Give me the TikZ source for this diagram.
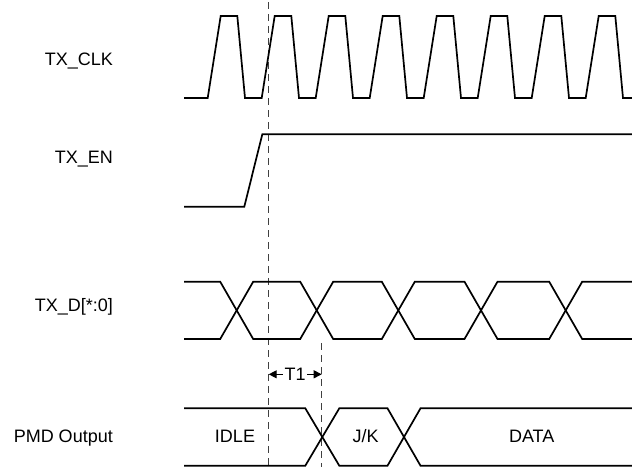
\documentclass[tikz,border=0pt]{standalone}
\usepackage{fontspec}
\setmainfont{Liberation Sans}
\usetikzlibrary{arrows.meta, positioning, calc}

\begin{document}
\begin{tikzpicture}[
    x=1pt, y=-1pt,
    signal/.style={anchor=base east, inner sep=0pt, font=\fontsize{18}{20}\selectfont},
    busval/.style={anchor=base, inner sep=0pt, font=\fontsize{18}{20}\selectfont},
    wave/.style={line width=1.7pt, line join=miter},
    marker/.style={line width=1.2pt, draw=black!75, dash pattern=on 7pt off 5pt},
    arrow/.style={line width=1.1pt, {Triangle[length=8pt,width=8pt]}-{Triangle[length=8pt,width=8pt]}}
]
\useasboundingbox (0,0) rectangle (632,467);

% Nodes
\node (clk) [signal] at (113,65) {TX\_CLK};
\node (en) [signal] at (113,163.3) {TX\_EN};
\node (txd) [signal] at (113,311) {TX\_D[*:0]};
\node (pmd) [signal] at (113,442) {PMD Output};
\node (idle) [busval] at (235,442.3) {IDLE};
\node (jk) [busval] at (365.7,442.3) {J/K};
\node (data) [busval] at (531.7,442.3) {DATA};

% Markers
\coordinate (m1top) at (268.7,2);
\coordinate (m1bot) at (268.7,467);
\coordinate (m2top) at (321.7,343);
\coordinate (m2bot) at (321.7,467);
\draw [marker] (m1top) -- (m1bot);
\draw [marker] (m2top) -- (m2bot);
\draw [arrow] (268.7,374.3) -- node[fill=white, inner sep=1.5pt, font=\fontsize{18}{20}\selectfont] {T1} (321.7,374.3);

% TX_CLK
\draw [wave] (184,98) foreach \k in {0,...,7} {
    -- ({207.7+54*\k},98) -- ++(13,-82) -- ++(16.6,0) -- ++(7.7,82)
  } -- (632,98);

% TX_EN
\draw [wave] (184,206.7) -- (244.3,206.7) -- (262.3,134.3) -- (632,134.3);

% TX_D
\draw [wave] (184,281.7) -- (220.2,281.7) -- (253.2,339) -- (300.2,339) -- (333.2,281.7)
  -- (381.8,281.7) -- (414.8,339) -- (464.5,339) -- (497.5,281.7) -- (549.2,281.7)
  -- (582.2,339) -- (632,339);
\draw [wave] (184,339) -- (220.2,339) -- (253.2,281.7) -- (300.2,281.7) -- (333.2,339)
  -- (381.8,339) -- (414.8,281.7) -- (464.5,281.7) -- (497.5,339) -- (549.2,339)
  -- (582.2,281.7) -- (632,281.7);

% PMD Output
\draw [wave] (184,408.3) -- (305.3,408.3) -- (339.3,465.7) -- (387.5,465.7) -- (420.5,408.3) -- (632,408.3);
\draw [wave] (184,465.7) -- (305.3,465.7) -- (339.3,408.3) -- (387.5,408.3) -- (420.5,465.7) -- (632,465.7);

\end{tikzpicture}
\end{document}
